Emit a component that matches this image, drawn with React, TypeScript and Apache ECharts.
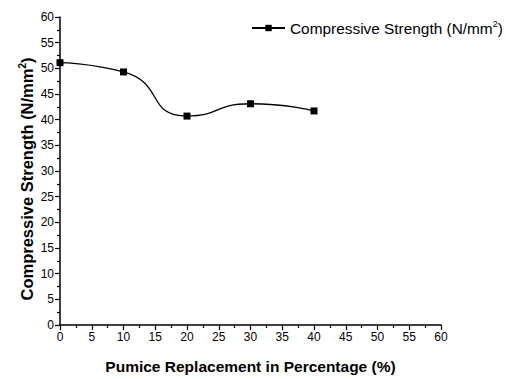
import React, { useEffect, useRef } from "react";
import * as echarts from "echarts";

const replacement = [0, 10, 20, 30, 40];
const strength = [51.1, 49.3, 40.7, 43.1, 41.7];
const seriesName = "Compressive Strength (N/mm2)";

export default function App() {
  const ref = useRef<HTMLDivElement>(null);
  useEffect(() => {
    document.body.style.margin = "0";
    const chart = echarts.init(ref.current!, null, { renderer: "svg" });
    const font = "'Liberation Sans', Arial, sans-serif";
    chart.setOption({
      animation: false,
      backgroundColor: "#ffffff",
      textStyle: { fontFamily: font },
      grid: { left: 60, right: 65, top: 17, bottom: 51, containLabel: false },
      legend: {
        show: true,
        left: 251,
        top: 19,
        padding: 0,
        itemWidth: 33,
        itemHeight: 8,
        data: [{ name: seriesName }],
        formatter: () => "{a|Compressive Strength (N/mm}{s|2}{a|)}",
        textStyle: {
          fontSize: 15.4,
          rich: {
            a: { fontSize: 15.4, fontFamily: font, color: "#000" },
            s: { fontSize: 9, fontFamily: font, color: "#000", padding: [0, 0, 9, 0] },
          },
        },
      },
      xAxis: {
        type: "value",
        min: 0,
        max: 60,
        interval: 5,
        name: "Pumice Replacement in Percentage (%)",
        nameLocation: "middle",
        nameGap: 33,
        nameMoveOverlap: false,
        nameTextStyle: { fontSize: 15.5, fontWeight: "bold", color: "#000", fontFamily: font },
        axisLine: { show: true, lineStyle: { color: "#000", width: 1.5 } },
        axisTick: { show: true, length: 5, lineStyle: { color: "#000", width: 1.2 } },
        minorTick: { show: true, splitNumber: 2, length: 3, lineStyle: { color: "#000", width: 1.2 } },
        axisLabel: { fontSize: 12, color: "#000", margin: 6, fontFamily: font },
        splitLine: { show: false },
      },
      yAxis: {
        type: "value",
        min: 0,
        max: 60,
        interval: 5,
        name: "{a|Compressive Strength (N/mm}{s|2}{a|)}",
        nameLocation: "middle",
        nameGap: 24,
        nameMoveOverlap: false,
        nameTextStyle: {
          padding: [0, 16, 0, 0],
          rich: {
            a: { fontSize: 16.5, fontWeight: "bold", color: "#000", fontFamily: font },
            s: { fontSize: 10, fontWeight: "bold", color: "#000", fontFamily: font, padding: [0, 0, 9, 0] },
          },
        },
        axisLine: { show: true, lineStyle: { color: "#000", width: 1.5 } },
        axisTick: { show: true, length: 5, lineStyle: { color: "#000", width: 1.2 } },
        minorTick: { show: true, splitNumber: 2, length: 3, lineStyle: { color: "#000", width: 1.2 } },
        axisLabel: { fontSize: 12, color: "#000", margin: 6, fontFamily: font },
        splitLine: { show: false },
      },
      series: [
        {
          name: seriesName,
          type: "line",
          data: replacement.map((x, i) => [x, strength[i]]),
          smooth: 0.6,
          symbol: "rect",
          symbolSize: 7,
          itemStyle: { color: "#000" },
          lineStyle: { color: "#000", width: 1.3 },
        },
      ],
    });
    return () => chart.dispose();
  }, []);
  return <div ref={ref} style={{ width: 506, height: 379 }} />;
}
